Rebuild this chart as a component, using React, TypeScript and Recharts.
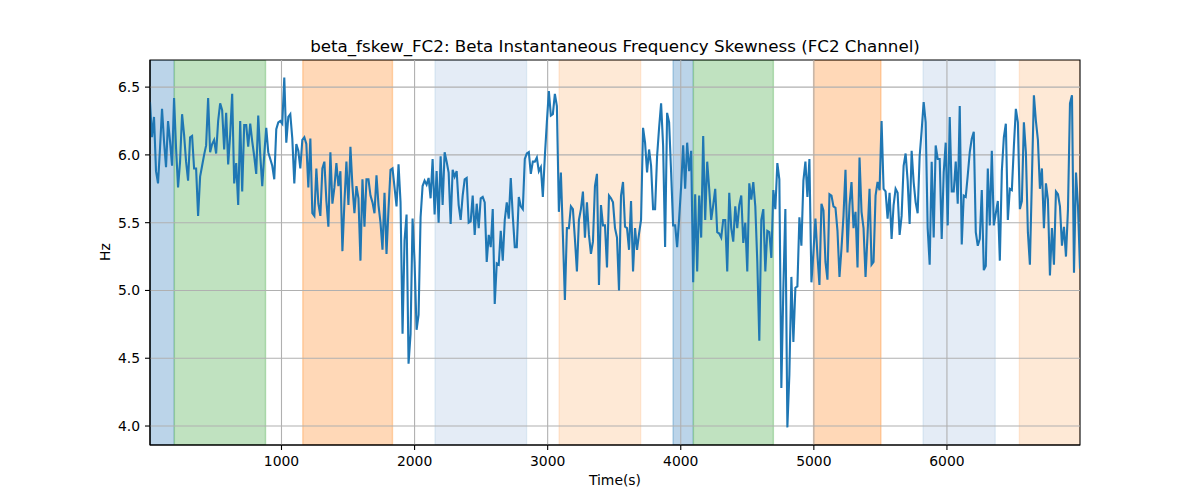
import { LineChart, Line, XAxis, YAxis, ReferenceArea, ReferenceLine } from "recharts";

const startTime = 12;
const timeStep = 15.06;

// beta instantaneous frequency skewness, FC2 channel (Hz)
const skewHz = [
  6.39, 6.13, 6.28, 5.88, 5.79, 6.05, 6.34, 6.1, 5.91, 6.25,
  6.1, 5.92, 6.42, 6.05, 5.76, 5.95, 6.3, 6.15, 5.95, 5.81,
  6.13, 6.14, 5.9, 5.9, 5.55, 5.84, 5.92, 6.0, 6.07, 6.42,
  6.02, 6.08, 6.11, 6.01, 6.25, 6.38, 6.33, 6.04, 6.31, 5.93,
  6.15, 6.45, 5.79, 5.94, 5.63, 6.25, 5.73, 6.22, 6.22, 6.06,
  6.23, 6.1, 5.99, 5.86, 6.29, 6.0, 5.77, 6.0, 6.2, 6.02,
  5.97, 5.92, 5.82, 6.19, 6.24, 6.25, 6.23, 6.57, 6.09, 6.28,
  6.3, 6.12, 5.79, 6.08,
  6.03, 5.9, 6.11, 6.13, 6.08, 5.76, 6.12, 5.57, 5.55, 5.9,
  5.64, 5.55, 5.9, 5.95, 5.66, 5.47, 6.02, 5.64, 5.76, 5.94,
  5.77, 5.88, 5.29, 5.65, 5.95, 5.63, 6.06, 5.77, 5.57, 5.77,
  5.68, 5.22, 5.82, 5.47, 5.82, 5.82, 5.7, 5.65, 5.57, 5.85,
  5.63, 5.5, 5.3, 5.72, 5.27, 5.6, 5.89, 5.9, 5.76, 5.62,
  5.93, 5.65, 4.68, 5.37, 5.56, 4.46, 4.68, 5.53, 5.21, 4.71,
  4.82, 5.54, 5.77, 5.81, 5.78, 5.83, 5.68, 5.97, 5.56, 5.88,
  5.5, 5.99, 5.63, 6.02, 5.95, 5.87, 5.49, 5.89, 5.84, 5.88,
  5.63, 5.52, 5.7, 5.82, 5.83, 5.5, 5.51, 5.7, 5.41, 5.64,
  5.46, 5.68, 5.69, 5.65, 5.21, 5.41, 5.32, 5.6, 4.9, 5.2,
  5.19, 5.44, 5.22, 5.52, 5.65, 5.53, 5.83, 5.55, 5.32, 5.32,
  5.69, 5.62, 5.6, 5.97, 6.01, 6.02, 5.86, 5.95, 5.95, 5.98,
  5.88, 5.91, 5.69, 5.99, 6.24, 6.47, 6.29, 6.3, 6.45, 6.36,
  5.58, 5.87, 5.41, 4.93, 5.46, 5.46, 5.62, 5.6, 5.38, 5.14,
  5.52, 5.6, 5.73, 5.39, 5.65, 5.41, 5.27, 5.36, 5.77, 5.86,
  5.04, 5.63, 5.48, 5.48, 5.17, 5.7, 5.68, 5.65,
  5.46, 5.39, 5.0, 5.7, 5.8, 5.47, 5.46, 5.3, 5.66, 5.14,
  5.46, 5.3, 5.42, 5.52, 6.2, 6.09, 5.87, 6.04, 5.92, 5.6,
  5.6, 5.99, 6.2, 6.38, 6.07, 5.32, 6.31, 6.24, 5.87, 5.48,
  5.48, 5.32, 5.53, 5.77, 6.07, 5.75, 6.09, 5.88, 6.03, 5.06,
  5.71, 5.14, 5.7, 5.39, 6.14, 5.52, 5.95, 5.75, 5.52, 5.63,
  5.75, 5.43, 5.42, 5.39, 5.52, 5.52, 5.14, 5.72, 5.46, 5.36,
  5.62, 5.46, 5.63, 5.7, 5.35, 5.5, 5.14, 5.79, 5.67, 5.8,
  5.62, 5.21, 4.63, 5.52, 5.6,
  5.14, 5.44, 5.43, 5.24, 5.74, 5.6, 5.94, 5.82, 4.28, 5.02,
  5.6, 3.99, 4.38, 5.1, 4.62, 5.02, 5.03, 5.54, 5.33, 5.81,
  5.95, 5.69, 5.97, 5.06, 5.28, 5.53, 5.26, 5.04, 5.64, 5.59,
  5.21, 5.08, 5.71, 5.7, 5.62, 5.61, 5.44, 5.1, 5.31, 5.55,
  5.89, 5.28, 5.63, 5.8, 5.46, 5.58, 5.17, 5.98, 5.58, 5.46,
  5.1, 5.41, 5.75, 5.19, 5.21, 5.7, 5.8, 5.74, 6.25, 5.75,
  5.73, 5.53, 5.72, 5.38, 5.63, 5.75, 5.72, 5.41, 5.55, 5.92,
  6.01, 5.81, 5.49, 6.03, 5.8, 5.65, 5.57, 5.99, 6.18,
  6.39, 6.24, 5.46, 5.19, 5.95, 5.39, 6.07, 5.97, 5.97, 5.38,
  5.87, 6.09, 5.48, 6.28, 5.73, 5.73, 5.95, 5.64, 6.36, 5.34,
  5.7, 5.69, 5.85, 6.02, 6.12, 6.17, 5.43, 5.33, 5.38, 5.74,
  5.15, 5.18, 5.9, 5.48, 6.03, 5.48, 5.57, 5.66, 5.22, 5.88,
  6.13, 6.23, 5.52, 5.75, 5.74, 6.06, 6.34, 6.24, 5.6, 5.66,
  6.24, 6.02, 5.43, 5.19, 5.82, 6.44, 6.25, 6.11, 5.75, 5.9,
  5.46, 5.79, 5.67, 5.11, 5.46, 5.19, 5.73, 5.71, 5.62, 5.33,
  5.47, 5.25, 5.6, 6.38, 6.44, 5.13, 5.87, 5.62, 5.16,
];

// shaded stage spans (seconds)
const bandStart = [12, 195, 1160, 2153, 3085, 3942, 4095, 4998, 5820, 6544];
const bandEnd = [195, 880, 1834, 2842, 3699, 4095, 4696, 5504, 6363, 7000];
const bandKind = ["blue", "green", "orange", "paleBlue", "paleOrange", "blue", "green", "orange", "paleBlue", "paleOrange"];

const xTicks = [1000, 2000, 3000, 4000, 5000, 6000];
const yTicks = [4.0, 4.5, 5.0, 5.5, 6.0, 6.5];
const yMin = 3.86;
const yMax = 6.7;

const bandFill: Record<string, string> = {
  blue: "#bbd4e9",
  green: "#c0e2c0",
  orange: "#ffd8b7",
  paleBlue: "#e4ecf6",
  paleOrange: "#fee9d6",
};
const bandEdge: Record<string, string> = {
  blue: "#1f77b4",
  green: "#2ca02c",
  orange: "#ff7f0e",
  paleBlue: "#1f77b4",
  paleOrange: "#ff7f0e",
};
const bandEdgeAlpha: Record<string, number> = {
  blue: 0.3,
  green: 0.3,
  orange: 0.3,
  paleBlue: 0.1,
  paleOrange: 0.12,
};

const data = skewHz.map((v, i) => ({ t: startTime + i * timeStep, v }));
const xMin = startTime;
const xMax = startTime + (skewHz.length - 1) * timeStep;

const font = "'DejaVu Sans', sans-serif";
const tickStyle = { fill: "#000", fontSize: 13.9, fontFamily: font };

export default function App() {
  return (
    <div style={{ position: "relative", width: 1200, height: 500, background: "#fff", fontFamily: font }}>
      <style>{`body { margin: 0; }`}</style>
      <div style={{ position: "absolute", left: 0, width: 1230, top: 36, textAlign: "center", fontSize: 16.7, color: "#000" }}>
        beta_fskew_FC2: Beta Instantaneous Frequency Skewness (FC2 Channel)
      </div>
      <div style={{ position: "absolute", left: 0, width: 1230, top: 472, textAlign: "center", fontSize: 13.9, color: "#000" }}>
        Time(s)
      </div>
      <div
        style={{
          position: "absolute",
          left: 105,
          top: 252,
          fontSize: 13.9,
          color: "#000",
          transform: "translate(-50%, -50%) rotate(-90deg)",
        }}
      >
        Hz
      </div>
      <LineChart width={1200} height={500} data={data} margin={{ top: 60, right: 120, bottom: 25, left: 90 }}>
        <XAxis
          dataKey="t"
          type="number"
          domain={[xMin, xMax]}
          ticks={xTicks}
          allowDataOverflow
          height={30}
          tick={tickStyle}
          tickSize={5}
          tickMargin={6}
          axisLine={{ stroke: "#000", strokeWidth: 1.1 }}
          tickLine={{ stroke: "#000", strokeWidth: 1.1 }}
        />
        <YAxis
          type="number"
          domain={[yMin, yMax]}
          ticks={yTicks}
          allowDataOverflow
          width={60}
          tick={tickStyle}
          tickFormatter={(v: number) => v.toFixed(1)}
          tickSize={5}
          tickMargin={5}
          axisLine={{ stroke: "#000", strokeWidth: 1.1 }}
          tickLine={{ stroke: "#000", strokeWidth: 1.1 }}
        />
        {bandStart.map((s, i) => (
          <ReferenceArea
            key={`band-${i}`}
            x1={s}
            x2={bandEnd[i]}
            fill={bandFill[bandKind[i]]}
            fillOpacity={1}
            stroke={bandEdge[bandKind[i]]}
            strokeOpacity={bandEdgeAlpha[bandKind[i]]}
            strokeWidth={1.4}
            ifOverflow="hidden"
          />
        ))}
        {xTicks.map((x) => (
          <ReferenceLine key={`gx-${x}`} x={x} stroke="#b0b0b0" strokeWidth={1.1} />
        ))}
        {yTicks.map((y) => (
          <ReferenceLine key={`gy-${y}`} y={y} stroke="#b0b0b0" strokeWidth={1.1} />
        ))}
        <ReferenceArea
          x1={xMin}
          x2={xMax}
          y1={yMin}
          y2={yMax}
          fill="none"
          stroke="#000"
          strokeWidth={1.1}
          ifOverflow="visible"
        />
        <Line
          type="linear"
          dataKey="v"
          stroke="#1f77b4"
          strokeWidth={2.1}
          dot={false}
          isAnimationActive={false}
        />
      </LineChart>
    </div>
  );
}
